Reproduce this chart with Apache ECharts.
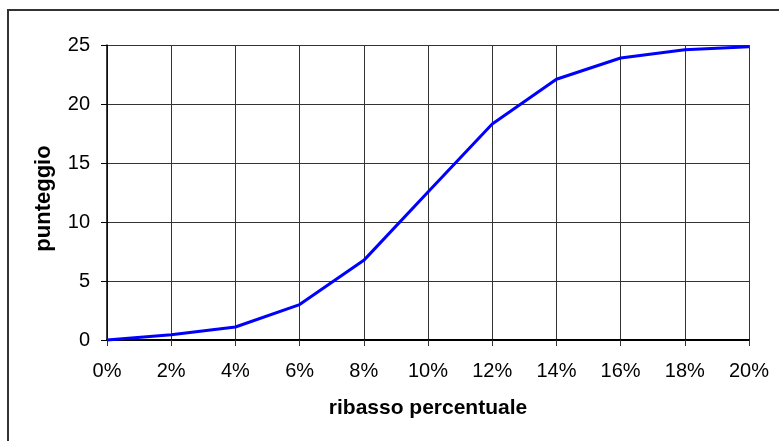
<!DOCTYPE html>
<html>
<head>
<meta charset="utf-8">
<script src="https://cdn.jsdelivr.net/npm/echarts@6/dist/echarts.min.js"></script>
<style>
html,body{margin:0;padding:0;background:#fff;}
#c{width:779px;height:441px;}
</style>
</head>
<body>
<div id="c"></div>
<script>
var ribasso = [0, 2, 4, 6, 8, 10, 12, 14, 16, 18, 20];
var punteggio = [0, 0.45, 1.1, 3.0, 6.75, 12.55, 18.3, 22.1, 23.9, 24.6, 24.85];
var xTitle = 'ribasso percentuale';
var yTitle = 'punteggio';

var chart = echarts.init(document.getElementById('c'), null, {renderer: 'canvas'});
var seriesData = ribasso.map(function (x, i) { return [x, punteggio[i]]; });

chart.setOption({
  animation: false,
  backgroundColor: '#ffffff',
  graphic: [{
    type: 'rect',
    shape: {x: 8, y: 10, width: 1000, height: 1000},
    style: {fill: 'none', stroke: '#333333', lineWidth: 2},
    silent: true
  }],
  grid: {left: 107, right: 30, top: 45, bottom: 101, containLabel: false},
  xAxis: {
    type: 'value',
    min: 0, max: 20, interval: 2,
    name: xTitle,
    nameLocation: 'middle',
    nameGap: 58,
    nameTextStyle: {fontFamily: 'Liberation Sans', fontSize: 21, fontWeight: 'bold', color: '#000', verticalAlign: 'top'},
    axisLine: {show: true, onZero: false, lineStyle: {color: '#000', width: 2}},
    axisTick: {show: true, length: 6, lineStyle: {color: '#333', width: 1}},
    axisLabel: {fontFamily: 'Liberation Sans', fontSize: 20, color: '#000', margin: 21, formatter: '{value}%'},
    splitLine: {show: true, lineStyle: {color: '#333', width: 1}}
  },
  yAxis: {
    type: 'value',
    min: 0, max: 25, interval: 5,
    name: yTitle,
    nameLocation: 'middle',
    nameGap: 52,
    nameRotate: 90,
    nameTextStyle: {fontFamily: 'Liberation Sans', fontSize: 22, fontWeight: 'bold', color: '#000', padding: [0, 12, 0, 0]},
    axisLine: {show: true, lineStyle: {color: '#000', width: 1.5}},
    axisTick: {show: true, length: 6, lineStyle: {color: '#000', width: 1}},
    axisLabel: {fontFamily: 'Liberation Sans', fontSize: 20, color: '#000', margin: 17},
    splitLine: {show: true, lineStyle: {color: '#333', width: 1}}
  },
  series: [{
    type: 'line',
    data: seriesData,
    showSymbol: false,
    symbol: 'none',
    smooth: false,
    lineStyle: {color: '#0000ff', width: 3},
    clip: false
  }]
});
</script>
</body>
</html>
